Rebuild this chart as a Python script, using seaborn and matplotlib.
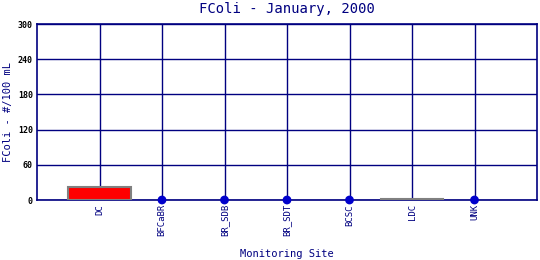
import numpy as np
import pandas as pd
import matplotlib
matplotlib.use("Agg")
import matplotlib.pyplot as plt
import seaborn as sns

sites = ["DC", "BFCaBR", "BR_SDB", "BR_SDT", "BCSC", "LDC", "UNK"]
values = [22, np.nan, np.nan, np.nan, np.nan, 1, np.nan]
yticks = [0, 60, 120, 180, 240, 300]

navy = "#000080"
sns.set_style("white")
plt.rcParams["font.family"] = ["DejaVu Sans Mono"]

df = pd.DataFrame({"site": sites, "value": values})

fig = plt.figure(figsize=(5.4, 2.6), dpi=100)
ax = fig.add_axes([37 / 540, 1 - 200 / 260, 500 / 540, 176 / 260])

sns.barplot(data=df, x="site", y="value", order=sites, color="#ff0000",
            saturation=1, width=1.0, edgecolor="#808080", linewidth=1.5,
            ax=ax, zorder=3)

missing = df[df["value"].isna()]
sns.scatterplot(x=[sites.index(s) for s in missing["site"]], y=[0] * len(missing),
                color="#0000cc", s=40, edgecolor="none", ax=ax, zorder=5,
                legend=False, clip_on=False)

ax.set_xlim(-1, 7)
ax.set_ylim(0, 300)
ax.set_yticks(yticks)
ax.set_yticklabels([str(v) for v in yticks], fontsize=6, color="black", fontweight="bold")
ax.set_xticks(range(len(sites)))
ax.set_xticklabels(sites, rotation=90, fontsize=6.5, color=navy)
ax.tick_params(axis="both", length=0, pad=3)
ax.grid(True, color=navy, linewidth=1.0, zorder=1)
ax.set_axisbelow(True)
for sp in ax.spines.values():
    sp.set_color(navy)
    sp.set_linewidth(1.2)

ax.set_xlabel("")
ax.set_ylabel("")
fig.text(287 / 540, 1 - 254 / 260, "Monitoring Site", fontsize=7.5, color=navy,
         ha="center", va="center")
fig.text(8 / 540, 1 - 112 / 260, "FColi - #/100 mL", fontsize=7.5, color=navy,
         ha="center", va="center", rotation=90)
fig.text(287 / 540, 1 - 9 / 260, "FColi - January, 2000", fontsize=10, color=navy,
         ha="center", va="center")

fig.savefig("out.png", dpi=100)
